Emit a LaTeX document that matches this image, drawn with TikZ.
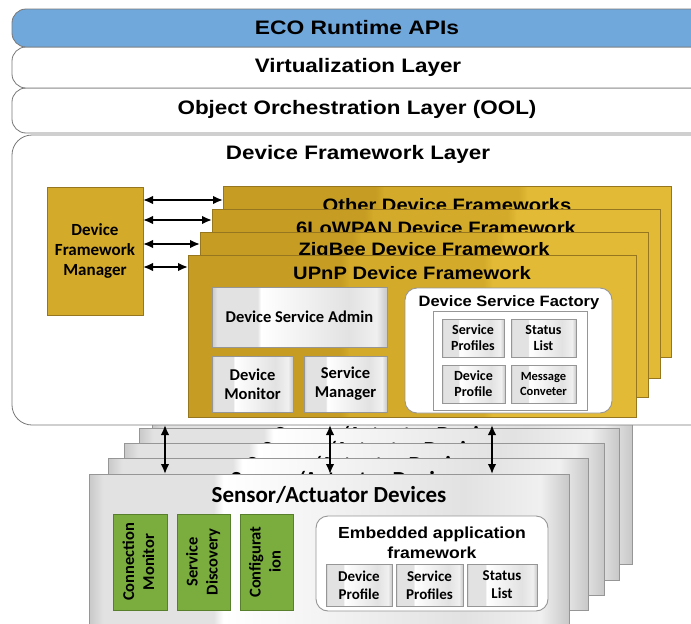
\documentclass[tikz,border=0pt]{standalone}
\usepackage{fontspec}
\usepackage{graphicx}
\setmainfont{Liberation Sans}
\newfontfamily\calfont{Carlito}
\usetikzlibrary{arrows.meta}
\definecolor{ecoblue}{RGB}{112,168,220}
\definecolor{edgegray}{RGB}{120,120,120}
\definecolor{boxedge}{RGB}{150,150,150}
\definecolor{gA}{RGB}{200,200,200}
\definecolor{gB}{RGB}{226,226,226}
\definecolor{gC}{RGB}{240,240,240}
\definecolor{golddark}{RGB}{198,156,34}
\definecolor{goldmid}{RGB}{212,170,42}
\definecolor{goldlight}{RGB}{226,186,54}
\definecolor{goldedge}{RGB}{150,118,30}
\definecolor{grn}{RGB}{122,172,62}
\definecolor{grnedge}{RGB}{88,128,44}
\pgfdeclarehorizontalshading{glass}{100bp}{color(0bp)=(gA); color(25bp)=(gA); color(26.5bp)=(gB); color(38bp)=(gB); color(39bp)=(white); color(52bp)=(gC); color(64bp)=(gB); color(72bp)=(gC); color(75bp)=(gA); color(100bp)=(gA)}
\pgfdeclarehorizontalshading{goldglass}{100bp}{color(0bp)=(golddark); color(25bp)=(golddark); color(42bp)=(golddark); color(43bp)=(goldmid); color(58bp)=(goldmid); color(59bp)=(goldlight); color(75bp)=(goldlight); color(100bp)=(goldlight)}
\begin{document}
\begin{tikzpicture}[x=1pt,y=-1pt,
  nwbox/.style={anchor=north west, inner sep=0pt, outer sep=0pt},
  layer/.style={nwbox, draw=edgegray, line width=0.8pt, rounded corners=14pt, fill=white},
  card/.style={nwbox, draw=boxedge, line width=0.8pt, shade, shading=glass},
  gframe/.style={nwbox, draw=goldedge, line width=0.6pt, shade, shading=goldglass},
  gbox/.style={nwbox, draw=boxedge, line width=0.8pt, shade, shading=glass, align=center, font=\calfont\bfseries\fontsize{16.5}{19}\selectfont},
  sbox/.style={gbox, font=\calfont\bfseries\fontsize{14}{16}\selectfont},
  grbox/.style={nwbox, draw=grnedge, line width=0.8pt, fill=grn, font=\calfont\bfseries\fontsize{16.5}{20}\selectfont},
  wbox/.style={nwbox, draw=boxedge, line width=0.9pt, fill=white, rounded corners=12pt},
  ltitle/.style={inner sep=0pt, font=\bfseries\fontsize{19.5}{23}\selectfont},
  ftitle/.style={inner sep=0pt, font=\bfseries\fontsize{18}{22}\selectfont},
  ctitle/.style={inner sep=0pt, font=\calfont\bfseries\fontsize{23}{27}\selectfont},
  dbl/.style={{Latex[length=10pt,width=8.5pt]}-{Latex[length=10pt,width=8.5pt]}, line width=1.7pt}
]
\useasboundingbox (0,0) rectangle (691,624);
\clip (0,0) rectangle (691,624);
\fill[white] (0,0) rectangle (691,624);

% sensor / actuator device cards (back to front)
\node[card, minimum width=480pt, minimum height=151pt] (card4) at (152,413) {};
\node[ctitle] (card4t) at (392,435) {Sensor/Actuator Devices};
\node[card, minimum width=480pt, minimum height=152pt] (card3) at (139,428) {};
\node[ctitle] (card3t) at (379,450) {Sensor/Actuator Devices};
\node[card, minimum width=480pt, minimum height=152pt] (card2) at (124,443) {};
\node[ctitle] (card2t) at (364,465) {Sensor/Actuator Devices};
\node[card, minimum width=480pt, minimum height=152pt] (card1) at (108,458) {};
\node[ctitle] (card1t) at (348,480) {Sensor/Actuator Devices};
\node[card, minimum width=480pt, minimum height=160pt] (sensor) at (89,474) {};
\node[ctitle] (sensort) at (329,495) {Sensor/Actuator Devices};

% green function blocks
\node[grbox, minimum width=54pt, minimum height=96pt] (cm) at (113,514)
  {\rotatebox{90}{\begin{tabular}{@{}c@{}}Connection\\Monitor\end{tabular}}};
\node[grbox, minimum width=53pt, minimum height=96pt] (sd) at (177,514)
  {\rotatebox{90}{\begin{tabular}{@{}c@{}}Service\\Discovery\end{tabular}}};
\node[grbox, minimum width=53pt, minimum height=96pt] (cf) at (240,514)
  {\rotatebox{90}{\begin{tabular}{@{}c@{}}Configurat\\ion\end{tabular}}};

% embedded application framework
\node[wbox, minimum width=232pt, minimum height=95pt] (eaf) at (316,516) {};
\node[inner sep=0pt, align=center, font=\bfseries\fontsize{16}{20}\selectfont] (eaft) at (432,543)
  {\scalebox{1.1}[1]{Embedded application}\\\scalebox{1.1}[1]{framework}};
\node[gbox, font=\calfont\bfseries\fontsize{15}{18}\selectfont, minimum width=66pt, minimum height=42pt] (edp) at (326,564) {Device\\Profile};
\node[gbox, font=\calfont\bfseries\fontsize{15}{18}\selectfont, minimum width=67pt, minimum height=42pt] (esp) at (396,564) {Service\\Profiles};
\node[gbox, font=\calfont\bfseries\fontsize{15}{18}\selectfont, minimum width=70pt, minimum height=42pt] (esl) at (467,564) {Status\\List};

% Device Framework Layer
\node[layer, rounded corners=20pt, minimum width=720pt, minimum height=290pt] (dfl) at (12,135) {};
\node[ltitle] (dflt) at (358,154) {\scalebox{1.15}[1]{Device Framework Layer}};

% top layers
\node[layer, minimum width=720pt, minimum height=45pt] (ool) at (12,88) {};
\node[ltitle] (oolt) at (357,109) {\scalebox{1.15}[1]{Object Orchestration Layer (OOL)}};
\node[layer, minimum width=720pt, minimum height=41pt] (virt) at (12,47) {};
\node[ltitle] (virtt) at (358,67) {\scalebox{1.15}[1]{Virtualization Layer}};
\node[layer, fill=ecoblue, minimum width=720pt, minimum height=38pt] (eco) at (12,9) {};
\node[ltitle] (ecot) at (357,28) {\scalebox{1.17}[1]{ECO Runtime APIs}};

% device framework stack
\node[gframe, minimum width=448pt, minimum height=171pt] (other) at (223,186) {};
\node[ftitle] (othert) at (447,205) {\scalebox{1.12}[1]{Other Device Frameworks}};
\node[gframe, minimum width=448pt, minimum height=169pt] (lowpan) at (212,209) {};
\node[ftitle] (lowpant) at (436,228) {\scalebox{1.12}[1]{6LoWPAN Device Framework}};
\node[gframe, minimum width=448pt, minimum height=165pt] (zigbee) at (200,232) {};
\node[ftitle] (zigbeet) at (424,251) {\scalebox{1.12}[1]{ZigBee Device Framework}};
\node[gframe, minimum width=448pt, minimum height=162pt] (upnp) at (188,255) {};
\node[ftitle] (upnpt) at (412,273) {\scalebox{1.12}[1]{UPnP Device Framework}};

% device framework manager
\node[nwbox, draw=goldedge, line width=0.6pt, fill=goldmid, minimum width=96pt, minimum height=128pt,
      align=center, font=\calfont\bfseries\fontsize{17}{20}\selectfont] (dfm) at (47,187)
  {Device\\Framework\\Manager};

% UPnP contents
\node[gbox, minimum width=175pt, minimum height=60pt] (dsa) at (212,287) {Device Service Admin};
\node[gbox, minimum width=81pt, minimum height=56pt] (dm) at (212,356) {Device\\Monitor};
\node[gbox, minimum width=83pt, minimum height=56pt] (sm) at (304,356) {Service\\Manager};
\node[wbox, minimum width=207pt, minimum height=125pt] (dsf) at (405,288) {};
\node[inner sep=0pt, font=\bfseries\fontsize{15}{18}\selectfont] (dsft) at (509,303) {\scalebox{1.1}[1]{Device Service Factory}};
\node[nwbox, draw=boxedge, line width=0.8pt, fill=white, minimum width=154pt, minimum height=99pt] (dsfin) at (433,311) {};
\node[sbox, minimum width=62pt, minimum height=38pt] (sp) at (442,319) {Service\\Profiles};
\node[sbox, minimum width=65pt, minimum height=38pt] (sl) at (511,319) {Status\\List};
\node[sbox, minimum width=63pt, minimum height=38pt] (dp) at (442,365) {Device\\Profile};
\node[sbox, font=\calfont\bfseries\fontsize{12.5}{15}\selectfont, minimum width=65pt, minimum height=38pt] (mc) at (511,365) {Message\\Conveter};

% connectors: manager <-> frameworks
\draw[dbl] (dfm.east |- 0,200) -- (other.west |- 0,200);
\draw[dbl] (dfm.east |- 0,220) -- (lowpan.west |- 0,220);
\draw[dbl] (dfm.east |- 0,244) -- (zigbee.west |- 0,244);
\draw[dbl] (dfm.east |- 0,267) -- (upnp.west |- 0,267);

% connectors: framework layer <-> devices
\draw[dbl] (dfl.south -| 165,0) -- (sensor.north -| 165,0);
\draw[dbl] (dfl.south -| 330,0) -- (sensor.north -| 330,0);
\draw[dbl] (dfl.south -| 492,0) -- (sensor.north -| 492,0);
\end{tikzpicture}
\end{document}
